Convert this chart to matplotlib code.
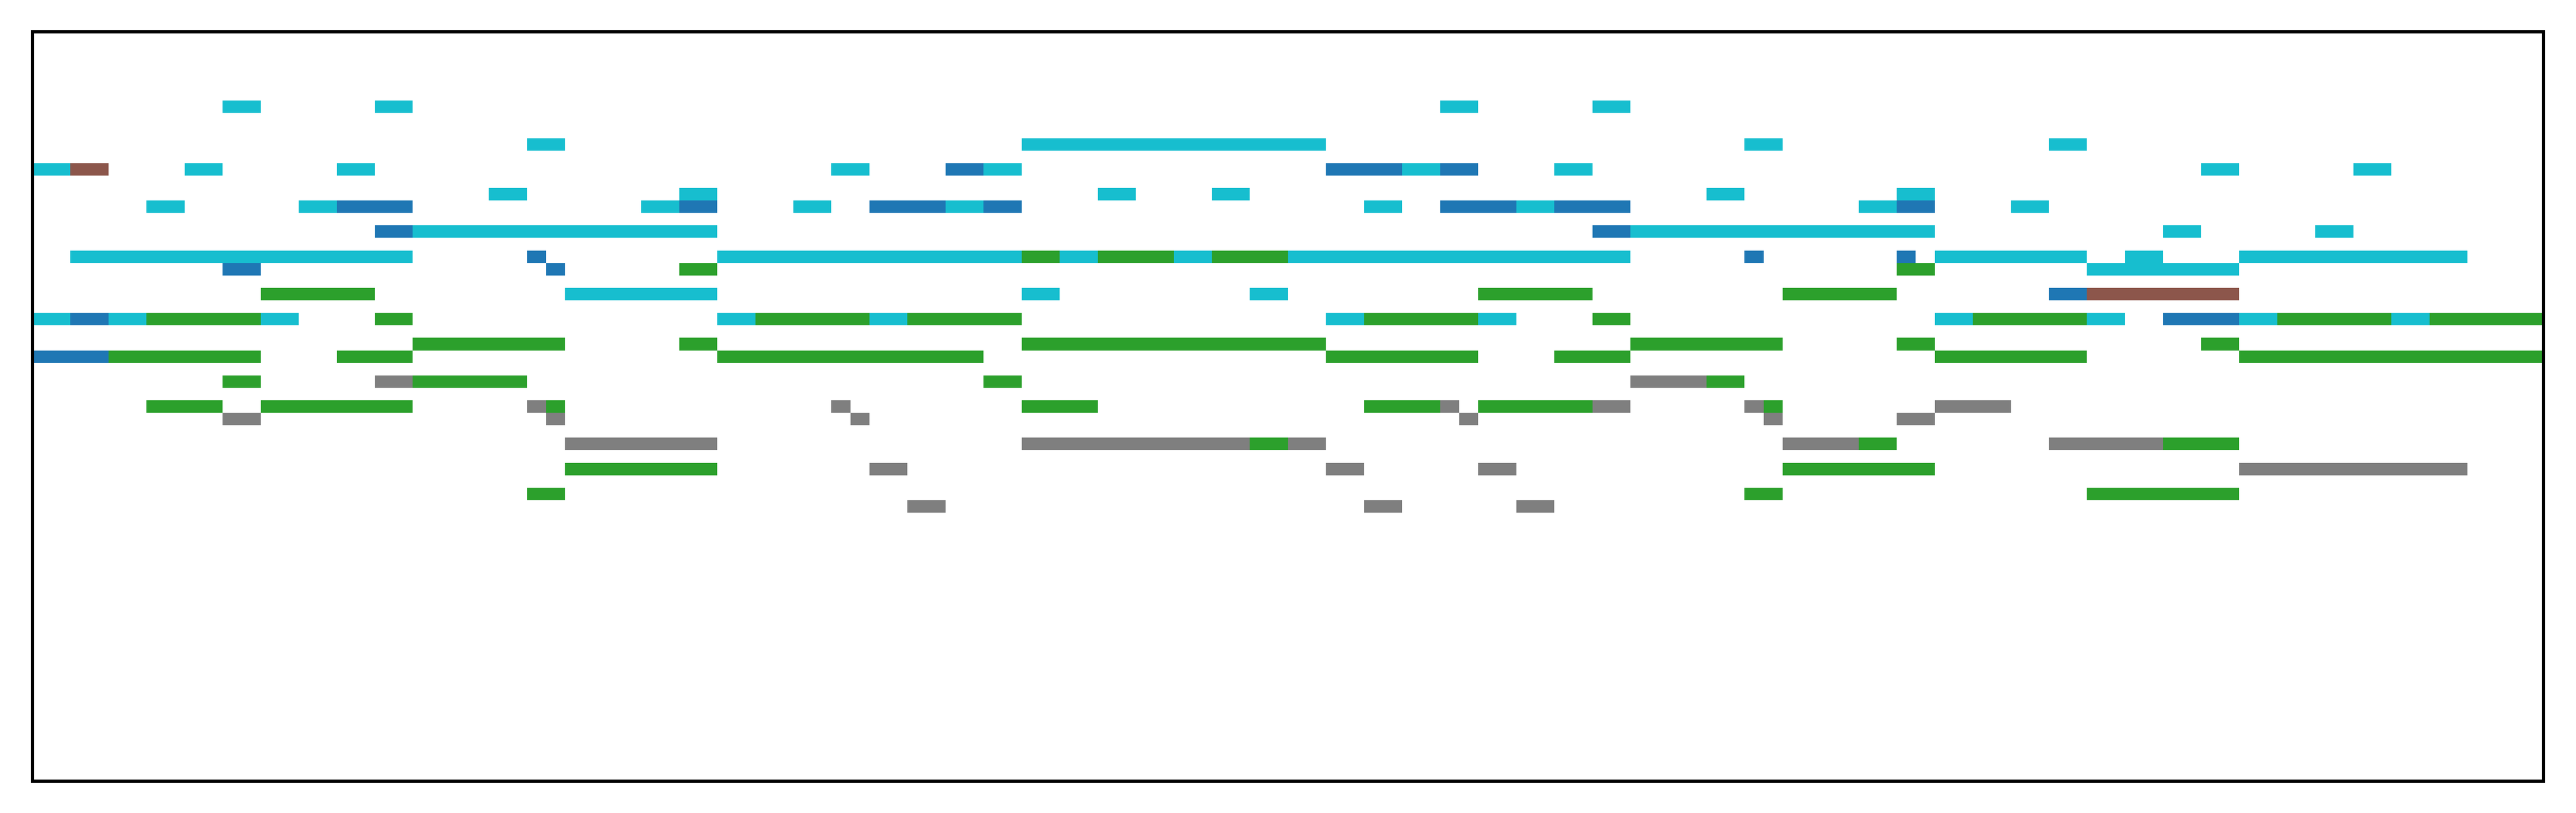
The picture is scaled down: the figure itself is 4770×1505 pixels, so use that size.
import numpy as np
import matplotlib
matplotlib.use("Agg")
import matplotlib.pyplot as plt
from matplotlib.colors import to_rgba

# piano roll: 132 time steps, notes given as (pitch, start_step, end_step)
n_steps = 132
n_pitches = 128
pitch_range = (36, 96)

blue_notes = [
    (85, 48, 50), (85, 68, 72), (85, 74, 76),
    (82, 16, 20), (82, 34, 36), (82, 44, 48), (82, 50, 52), (82, 74, 78), (82, 80, 84), (82, 98, 100),
    (80, 18, 20), (80, 82, 84),
    (78, 26, 27), (78, 90, 91), (78, 98, 99),
    (77, 10, 12), (77, 27, 28),
    (75, 106, 108),
    (73, 2, 4), (73, 112, 116),
    (70, 0, 4),
]

brown_notes = [
    (85, 2, 4),
    (75, 108, 116),
]

green_notes = [
    (78, 52, 54), (78, 56, 60), (78, 62, 66),
    (77, 34, 36), (77, 98, 100),
    (75, 12, 18), (75, 76, 82), (75, 92, 98),
    (73, 6, 12), (73, 18, 20), (73, 38, 44), (73, 46, 52), (73, 70, 76), (73, 82, 84),
    (73, 102, 108), (73, 118, 124), (73, 126, 132),
    (71, 20, 28), (71, 34, 36), (71, 52, 68), (71, 84, 92), (71, 98, 100), (71, 114, 116),
    (70, 4, 12), (70, 16, 20), (70, 36, 50), (70, 68, 76), (70, 80, 84), (70, 100, 108), (70, 116, 132),
    (68, 10, 12), (68, 20, 26), (68, 50, 52), (68, 88, 90),
    (66, 6, 10), (66, 12, 20), (66, 27, 28), (66, 52, 56), (66, 70, 74), (66, 76, 82), (66, 91, 92),
    (63, 64, 66), (63, 96, 98), (63, 112, 116),
    (61, 28, 36), (61, 92, 100),
    (59, 26, 28), (59, 90, 92), (59, 108, 116),
]

gray_notes = [
    (68, 18, 20), (68, 84, 88),
    (66, 26, 27), (66, 42, 43), (66, 74, 75), (66, 82, 84), (66, 90, 91), (66, 100, 104),
    (65, 10, 12), (65, 27, 28), (65, 43, 44), (65, 75, 76), (65, 91, 92), (65, 98, 100),
    (63, 28, 36), (63, 52, 64), (63, 66, 68), (63, 92, 96), (63, 106, 112),
    (61, 44, 46), (61, 68, 70), (61, 76, 78), (61, 116, 128),
    (58, 46, 48), (58, 70, 72), (58, 78, 80),
]

cyan_notes = [
    (90, 10, 12), (90, 18, 20), (90, 74, 76), (90, 82, 84),
    (87, 26, 28), (87, 52, 68), (87, 90, 92), (87, 106, 108),
    (85, 0, 2), (85, 8, 10), (85, 16, 18), (85, 42, 44), (85, 50, 52), (85, 72, 74),
    (85, 80, 82), (85, 114, 116), (85, 122, 124),
    (83, 24, 26), (83, 34, 36), (83, 56, 58), (83, 62, 64), (83, 88, 90), (83, 98, 100),
    (82, 6, 8), (82, 14, 16), (82, 32, 34), (82, 40, 42), (82, 48, 50), (82, 70, 72),
    (82, 78, 80), (82, 96, 98), (82, 104, 106),
    (80, 20, 36), (80, 84, 100), (80, 112, 114), (80, 120, 122),
    (78, 2, 20), (78, 36, 52), (78, 54, 56), (78, 60, 62), (78, 66, 84), (78, 100, 108),
    (78, 110, 112), (78, 116, 128),
    (77, 108, 116),
    (75, 28, 36), (75, 52, 54), (75, 64, 66),
    (73, 0, 2), (73, 4, 6), (73, 12, 14), (73, 36, 38), (73, 44, 46), (73, 68, 70),
    (73, 76, 78), (73, 100, 102), (73, 108, 110), (73, 116, 118), (73, 124, 126),
]

tracks = [
    (blue_notes, "tab:blue"),
    (brown_notes, "tab:brown"),
    (green_notes, "tab:green"),
    (gray_notes, "tab:gray"),
    (cyan_notes, "tab:cyan"),
]

roll = np.zeros((n_pitches, n_steps, 4))
for notes, color in tracks:
    rgba = to_rgba(color)
    for pitch, start, end in notes:
        roll[pitch, start:end] = rgba

fig = plt.figure(figsize=(15.9, 5.02), dpi=300)
ax = fig.add_axes([0.01264, 0.03938, 0.97484, 0.92058])
ax.imshow(roll, origin="lower", aspect="auto", interpolation="nearest")
ax.set_ylim(*pitch_range)
ax.set_xticks([])
ax.set_yticks([])
for spine in ax.spines.values():
    spine.set_linewidth(1.44)

fig.savefig("out.png", dpi=300)
